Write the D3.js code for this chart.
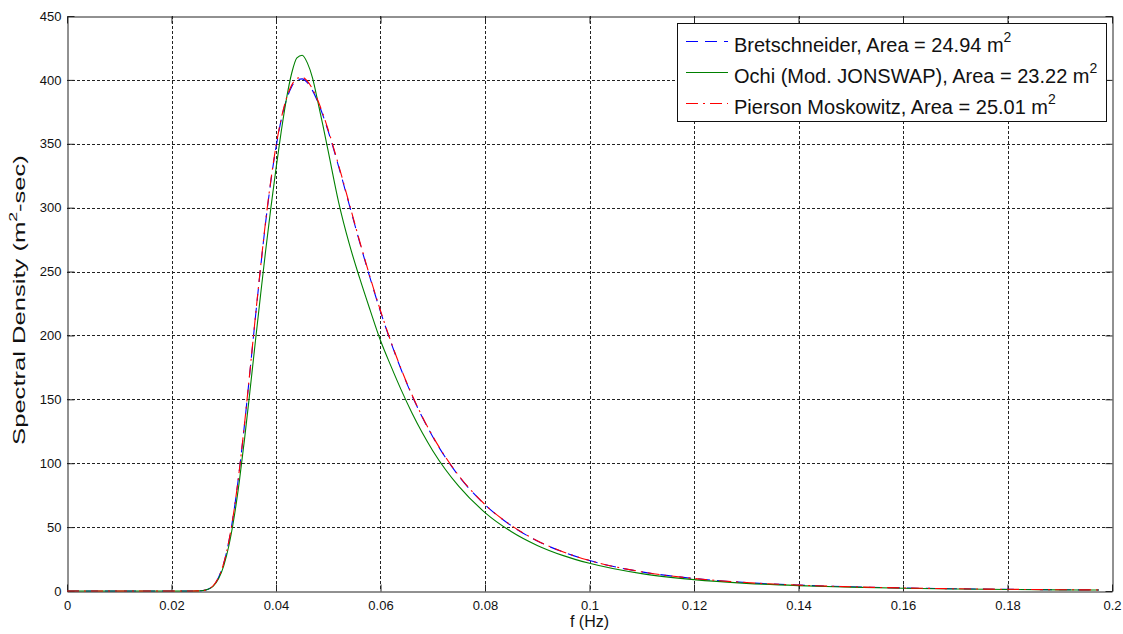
<!DOCTYPE html>
<html>
<head>
<meta charset="utf-8">
<script src="https://cdn.jsdelivr.net/npm/d3@7"></script>
<style>
  html, body { margin: 0; padding: 0; background: #fff; }
  svg { display: block; font-family: Arial, "Liberation Sans", sans-serif; }
</style>
</head>
<body>
<svg id="chart" width="1123" height="634"></svg>
<script>
// ---- data ----
const freq = [0, 0.01, 0.02, 0.024, 0.025, 0.026, 0.027, 0.028, 0.029, 0.030, 0.031, 0.032, 0.033, 0.034, 0.035, 0.036, 0.037, 0.038, 0.039, 0.040, 0.041, 0.042, 0.043, 0.044, 0.045, 0.046, 0.047, 0.048, 0.049, 0.050, 0.052, 0.054, 0.056, 0.058, 0.060, 0.062, 0.064, 0.066, 0.068, 0.070, 0.075, 0.080, 0.085, 0.090, 0.095, 0.100, 0.110, 0.120, 0.130, 0.140, 0.150, 0.160, 0.170, 0.180, 0.190, 0.1975];
const bretschneider = [0, 0, 0, 0.01, 0.07, 0.38, 1.45, 4.3, 10.5, 21.7, 39.3, 63.8, 94.9, 131.4, 171.1, 211.8, 251.0, 287.9, 320.1, 347.2, 368.7, 384.4, 394.7, 400.0, 400.8, 397.8, 391.6, 382.8, 372.0, 359.7, 332.0, 302.6, 273.1, 245.0, 218.6, 194.5, 172.8, 153.3, 136.0, 120.7, 89.9, 67.5, 51.2, 39.2, 30.4, 23.8, 15.0, 9.8, 6.6, 4.6, 3.3, 2.4, 1.75, 1.32, 1.0, 0.83];
const ochi = [0, 0, 0, 0.01, 0.06, 0.35, 1.3, 3.9, 9.6, 19.7, 35.8, 58.1, 86.4, 119.6, 155.9, 193.3, 230.0, 265.7, 299.2, 330.6, 359.6, 385.2, 405.2, 417.2, 419.3, 413.3, 401.3, 383, 364, 344, 304, 272, 245, 220, 196, 176, 157, 139.5, 123.8, 109.8, 81.8, 61.4, 46.6, 35.7, 27.7, 21.7, 13.6, 8.9, 6.0, 4.2, 3.0, 2.1, 1.6, 1.2, 0.9, 0.76];
const piersonMoskowitz = [0, 0, 0, 0.01, 0.07, 0.38, 1.45, 4.3, 10.5, 21.8, 39.4, 64.0, 95.2, 131.8, 171.6, 212.4, 251.8, 288.8, 321.1, 348.2, 369.8, 385.6, 395.9, 401.2, 402.0, 399.0, 392.8, 384.0, 373.1, 360.8, 333.0, 303.5, 273.9, 245.7, 219.3, 195.1, 173.3, 153.8, 136.4, 121.1, 90.2, 67.7, 51.4, 39.3, 30.5, 23.9, 15.0, 9.8, 6.6, 4.6, 3.3, 2.4, 1.76, 1.32, 1.0, 0.83];
const seriesNames = ["Bretschneider, Area = 24.94 m", "Ochi (Mod. JONSWAP), Area = 23.22 m", "Pierson Moskowitz, Area = 25.01 m"];
const xTicks = [0, 0.02, 0.04, 0.06, 0.08, 0.1, 0.12, 0.14, 0.16, 0.18, 0.2];
const yTicks = [0, 50, 100, 150, 200, 250, 300, 350, 400, 450];
const xLabel = "f (Hz)";

// ---- layout ----
const svg = d3.select("#chart");
const L = 67, R = 1112, T = 16, B = 591;
const x = d3.scaleLinear().domain([0, 0.2]).range([L, R]);
const y = d3.scaleLinear().domain([0, 450]).range([B, T]);

svg.append("rect").attr("width", 1123).attr("height", 634).attr("fill", "#fff");

// grid
const grid = svg.append("g").attr("stroke", "#222").attr("stroke-width", 1).attr("stroke-dasharray", "3,2");
grid.selectAll(".gx").data(xTicks.filter(d => d > 0 && d < 0.2)).join("line")
  .attr("x1", d => Math.round(x(d)) + 0.5).attr("x2", d => Math.round(x(d)) + 0.5)
  .attr("y1", T).attr("y2", B);
grid.selectAll(".gy").data(yTicks.filter(d => d > 0 && d < 450)).join("line")
  .attr("y1", d => Math.round(y(d)) + 0.5).attr("y2", d => Math.round(y(d)) + 0.5)
  .attr("x1", L).attr("x2", R);

// axes (inward ticks, box on)
const fmtX = d => String(+d.toFixed(2));
const tl = 7;
const axB = svg.append("g").attr("transform", `translate(0,${B + 0.5})`)
  .call(d3.axisBottom(x).tickValues(xTicks).tickFormat(fmtX).tickSizeInner(-tl).tickSizeOuter(0).tickPadding(9));
const axT = svg.append("g").attr("transform", `translate(0,${T + 0.5})`)
  .call(d3.axisTop(x).tickValues(xTicks).tickFormat("").tickSizeInner(-tl).tickSizeOuter(0));
const axL = svg.append("g").attr("transform", `translate(${L + 0.5},0)`)
  .call(d3.axisLeft(y).tickValues(yTicks).tickSizeInner(-tl).tickSizeOuter(0).tickPadding(6));
const axR = svg.append("g").attr("transform", `translate(${R + 0.5},0)`)
  .call(d3.axisRight(y).tickValues(yTicks).tickFormat("").tickSizeInner(-tl).tickSizeOuter(0));
[axB, axT, axL, axR].forEach(a => {
  a.select(".domain").attr("stroke", "#222");
  a.selectAll(".tick line").attr("stroke", "#222");
  a.selectAll("text").attr("fill", "#111").attr("font-size", 13).attr("font-family", "Arial, 'Liberation Sans', sans-serif");
});

// curves
const data = freq.map((f, i) => ({ f, b: bretschneider[i], o: ochi[i], p: piersonMoskowitz[i] }));
const mk = key => d3.line().x(d => x(d.f)).y(d => y(d[key])).curve(d3.curveMonotoneX);
const styles = [
  { key: "b", color: "#0000ff", dash: "12,7" },
  { key: "o", color: "#008000", dash: null },
  { key: "p", color: "#ff0000", dash: "12,5,2,5" }
];
styles.forEach(s => {
  svg.append("path").datum(data).attr("d", mk(s.key))
    .attr("fill", "none").attr("stroke", s.color).attr("stroke-width", 1.1)
    .attr("stroke-dasharray", s.dash);
});

// axis labels
svg.append("text").attr("x", (L + R) / 2).attr("y", 627).attr("text-anchor", "middle")
  .attr("font-size", 16).attr("fill", "#111").text(xLabel);
const yl = svg.append("text").attr("transform", "translate(25,300) rotate(-90) scale(1.6,1)")
  .attr("text-anchor", "middle").attr("font-size", 16).attr("fill", "#111");
yl.append("tspan").text("Spectral Density (m");
yl.append("tspan").attr("font-size", 11).attr("dy", -8).text("2");
yl.append("tspan").attr("dy", 8).text("-sec)");

// legend
const lg = svg.append("g");
lg.append("rect").attr("x", 677.5).attr("y", 23.5).attr("width", 429).attr("height", 98)
  .attr("fill", "#fff").attr("stroke", "#111").attr("stroke-width", 1);
const rowY = [41, 72, 103];
styles.forEach((s, i) => {
  lg.append("line").attr("x1", 686).attr("x2", 728).attr("y1", rowY[i] + 0.5).attr("y2", rowY[i] + 0.5)
    .attr("stroke", s.color).attr("stroke-width", 1.1).attr("stroke-dasharray", s.dash);
  const t = lg.append("text").attr("x", 734).attr("y", rowY[i] + 11).attr("font-size", 20).attr("fill", "#111");
  t.append("tspan").text(seriesNames[i]);
  t.append("tspan").attr("font-size", 14).attr("dy", -10).text("2");
});
</script>
</body>
</html>
